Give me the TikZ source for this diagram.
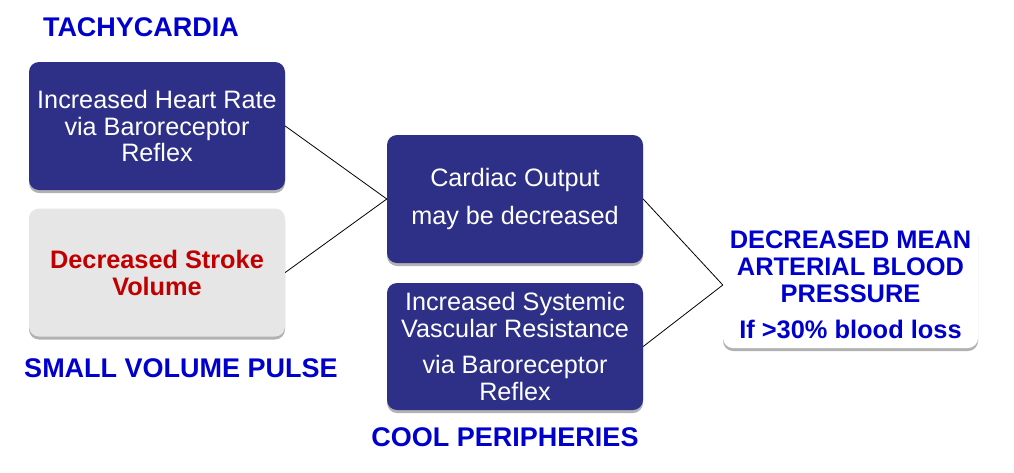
\documentclass[tikz,border=0pt]{standalone}
\usepackage{fontspec}
\setmainfont{Liberation Sans}
\usetikzlibrary{shadows}
\definecolor{boxblue}{RGB}{46,48,135}
\definecolor{titleblue}{RGB}{0,0,204}
\definecolor{stroke}{RGB}{192,0,0}
\definecolor{boxgray}{RGB}{230,230,230}
\begin{document}
\begin{tikzpicture}[x=1pt,y=-1pt,
  box/.style={rounded corners=10pt, minimum width=256pt, minimum height=128pt,
    align=center, inner sep=0pt,
    drop shadow={shadow xshift=0pt,shadow yshift=-3pt,opacity=0.3,fill=black}},
  bluebox/.style={box, fill=boxblue, text=white, font=\fontsize{25.2}{26.5}\selectfont},
  graybox/.style={box, fill=boxgray, text=stroke, font=\fontsize{25.3}{27}\selectfont\bfseries},
  whitebox/.style={box, minimum width=255pt, minimum height=126pt, fill=white, text=titleblue,
    font=\fontsize{25.4}{27}\selectfont\bfseries},
  label/.style={text=titleblue, font=\fontsize{27}{30}\selectfont\bfseries, inner sep=0pt},
  link/.style={draw=black, line width=0.8pt}]
\useasboundingbox (0,0) rectangle (1014,472);
\fill[white] (0,0) rectangle (1014,472);

\node[label] (tachy) at (141,27) {TACHYCARDIA};
\node[bluebox] (hr) at (157,126) {Increased Heart Rate\\via Baroreceptor\\Reflex};
\node[graybox] (sv) at (157,272.5) {Decreased Stroke\\Volume};
\node[label] (pulse) at (181,368) {SMALL VOLUME PULSE};

\node[bluebox] (co) at (515,199) {Cardiac Output\\[11pt]may be decreased};
\node[bluebox, minimum height=127pt] (svr) at (515,346.5) {Increased Systemic\\Vascular Resistance\\[10pt]via Baroreceptor\\Reflex};
\node[label] (cool) at (505,437) {COOL PERIPHERIES};

\node[whitebox] (map) at (850.5,285) {DECREASED MEAN\\ARTERIAL BLOOD\\PRESSURE\\[9pt]If >30\% blood loss};

\draw[link] (hr.east) -- (co.west);
\draw[link] (sv.east) -- (co.west);
\draw[link] (co.east) -- (map.west);
\draw[link] (svr.east) -- (map.west);
\end{tikzpicture}
\end{document}
